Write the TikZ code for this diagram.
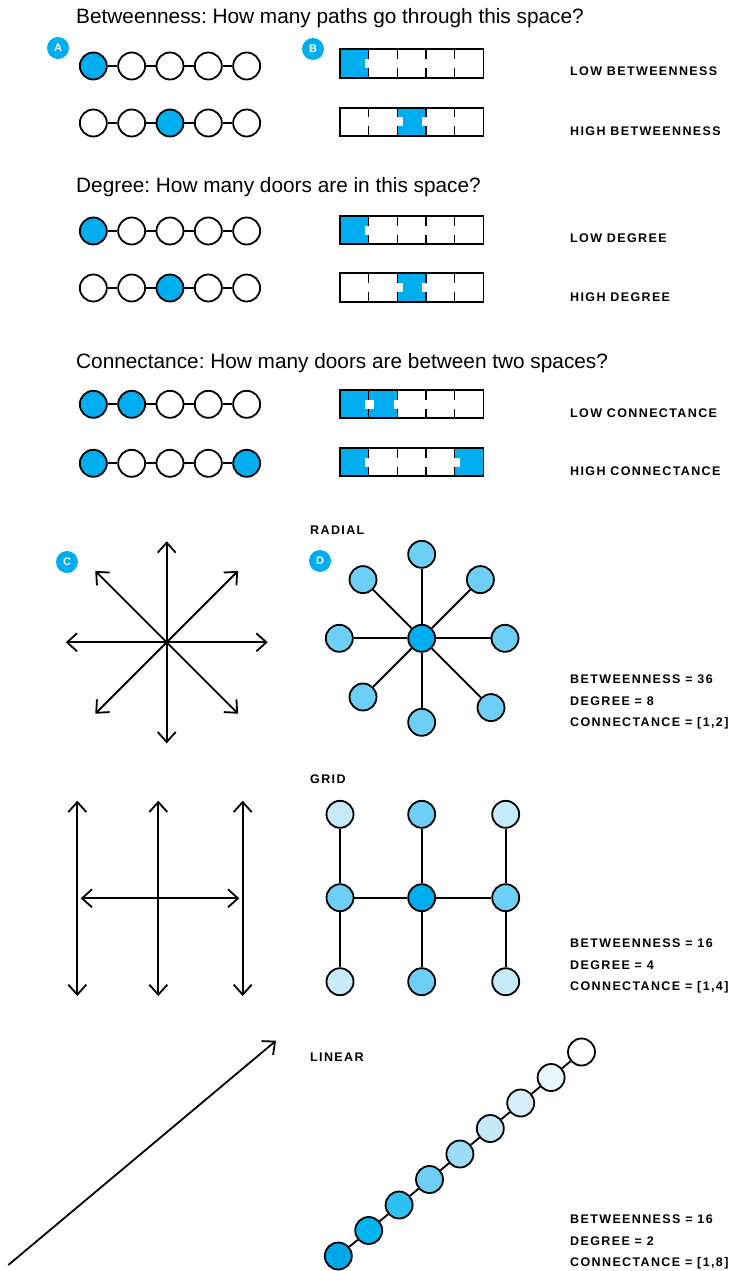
\documentclass[tikz,border=0pt]{standalone}
\usepackage{fontspec}
\setmainfont{Liberation Sans}
\newfontfamily\tagfont{Liberation Sans}[LetterSpace=11]
\usetikzlibrary{arrows.meta}
\frenchspacing
\definecolor{sky}{HTML}{00AEEF}
\definecolor{skymid}{HTML}{6DCFF6}
\definecolor{skypale}{HTML}{C7EAFB}
\definecolor{lin0}{HTML}{00A6E6}
\definecolor{lin1}{HTML}{00B4EE}
\definecolor{lin2}{HTML}{2DC0F0}
\definecolor{lin3}{HTML}{6DCFF6}
\definecolor{lin4}{HTML}{9BDCF7}
\definecolor{lin5}{HTML}{C5E9FA}
\definecolor{lin6}{HTML}{D6EFFB}
\definecolor{lin7}{HTML}{E8F6FD}

\begin{document}
\begin{tikzpicture}[
        x=1pt, y=-1pt,
        room/.style={draw, circle, line width=1.8pt, minimum size=27pt, inner sep=0pt, fill=white},
        cell/.style={draw, rectangle, line width=1.6pt, minimum width=28.67pt, minimum height=28.5pt, inner sep=0pt, fill=white},
        door/.style={rectangle, fill=white, minimum width=9pt, minimum height=9pt, inner sep=0pt},
        badge/.style={circle, fill=sky, text=white, minimum size=22pt, inner sep=0pt, font=\bfseries\fontsize{11}{11}\selectfont},
        heading/.style={anchor=west, inner sep=0pt, font=\fontsize{20.8}{24}\selectfont},
        tag/.style={anchor=west, inner sep=0pt, font=\tagfont\bfseries\fontsize{12.5}{14}\selectfont},
        link/.style={line width=1.8pt},
        way/.style={line width=1.8pt, -{Straight Barb[length=10pt, width=18pt]}},
        twoway/.style={line width=1.8pt, {Straight Barb[length=10pt, width=18pt]}-{Straight Barb[length=10pt, width=18pt]}}
    ]
        \useasboundingbox (0,0) rectangle (734,1271);

        \node[heading] (betweenTitle) at (76,18) {Betweenness: How many paths go through this space?};
        \node[heading] (degreeTitle) at (76,187) {Degree: How many doors are in this space?};
        \node[heading] (connectTitle) at (76,363) {Connectance: How many doors are between two spaces?};

        \node[badge] (badgeA) at (58,48) {A};
        \node[badge] (badgeB) at (313,49) {B};
        \node[badge] (badgeC) at (67,562) {C};
        \node[badge] (badgeD) at (320,561) {D};

        \foreach \r/\y/\a/\b/\c/\d/\e in {1/66/sky/white/white/white/white, 2/123/white/white/sky/white/white,
                3/231/sky/white/white/white/white, 4/288/white/white/sky/white/white,
                5/404.3/sky/sky/white/white/white, 6/463.3/sky/white/white/white/sky} {
            \foreach \i/\f in {1/\a,2/\b,3/\c,4/\d,5/\e}
                \node[room, fill=\f] (c\r-\i) at ({55+38.33*\i}, \y) {};
            \foreach \i/\j in {1/2,2/3,3/4,4/5}
                \draw[link] (c\r-\i) -- (c\r-\j);
        }

        \foreach \r/\y/\a/\b/\c/\d/\e in {1/63.5/sky/white/white/white/white, 2/122/white/white/sky/white/white,
                3/230/sky/white/white/white/white, 4/287.5/white/white/sky/white/white,
                5/404/sky/sky/white/white/white, 6/462/sky/white/white/white/sky} {
            \foreach \i/\f in {1/\a,2/\b,3/\c,4/\d,5/\e}
                \node[cell, fill=\f] (p\r-\i) at ({325.67+28.67*\i}, \y) {};
            \foreach \i in {1,2,3,4}
                \node[door] (q\r-\i) at (p\r-\i.east) {};
        }

        \node[tag] (lowBetween) at (570,71) {LOW BETWEENNESS};
        \node[tag] (highBetween) at (570,131) {HIGH BETWEENNESS};
        \node[tag] (lowDegree) at (570,238) {LOW DEGREE};
        \node[tag] (highDegree) at (570,297) {HIGH DEGREE};
        \node[tag] (lowConnect) at (570,413) {LOW CONNECTANCE};
        \node[tag] (highConnect) at (570,471) {HIGH CONNECTANCE};

        \coordinate (star) at (166.7,642.3);
        \foreach \a in {0,45,...,315} {
            \path (star) ++(\a:101) coordinate (ray\a);
            \draw[way] (star) -- (ray\a);
        }

        \node[tag] (radialTag) at (310,530) {RADIAL};
        \node[room, fill=sky] (hub) at (421.7,638.3) {};
        \foreach \a/\d in {0/83.3,45/98,90/84,135/83,180/82.4,225/83,270/84,315/83} {
            \path (hub.center) ++(\a:\d) node[room, fill=skymid] (spoke\a) {};
            \draw[link] (hub) -- (spoke\a);
        }
        \node[tag] (radialBetween) at (570,679) {BETWEENNESS = 36};
        \node[tag] (radialDegree) at (570,701) {DEGREE = 8};
        \node[tag] (radialConnect) at (570,723) {CONNECTANCE = [1,2]};

        \foreach \i/\x in {1/77.3,2/158.3,3/242.7} {
            \coordinate (top\i) at (\x,800.7);
            \coordinate (bot\i) at (\x,996);
            \draw[twoway] (top\i) -- (bot\i);
        }
        \coordinate (westEnd) at (80.7,898.3);
        \coordinate (eastEnd) at (239.3,898.3);
        \draw[twoway] (westEnd) -- (eastEnd);

        \node[tag] (gridTag) at (310,779) {GRID};
        \foreach \n/\x/\y/\f in {g11/340/814.3/skypale, g21/421.7/814.3/skymid, g31/505.7/814.3/skypale,
                g12/340/897.7/skymid, g22/421.7/897.7/sky, g32/505.7/897.7/skymid,
                g13/340/981.7/skypale, g23/421.7/981.7/skymid, g33/505.7/981.7/skypale}
            \node[room, fill=\f] (\n) at (\x,\y) {};
        \foreach \u/\v in {g11/g12,g12/g13,g21/g22,g22/g23,g31/g32,g32/g33,g12/g22,g22/g32}
            \draw[link] (\u) -- (\v);
        \node[tag] (gridBetween) at (570,943) {BETWEENNESS = 16};
        \node[tag] (gridDegree) at (570,965) {DEGREE = 4};
        \node[tag] (gridConnect) at (570,987) {CONNECTANCE = [1,4]};

        \coordinate (lineStart) at (8.3,1265);
        \coordinate (lineEnd) at (276,1040.7);
        \draw[way] (lineStart) -- (lineEnd);

        \node[tag] (linearTag) at (310,1057) {LINEAR};
        \foreach \i/\f in {0/lin0,1/lin1,2/lin2,3/lin3,4/lin4,5/lin5,6/lin6,7/lin7,8/white}
            \node[room, fill=\f] (l\i) at ({338.3+30.4*\i}, {1256-25.5*\i}) {};
        \foreach \i/\j in {0/1,1/2,2/3,3/4,4/5,5/6,6/7,7/8}
            \draw[link] (l\i) -- (l\j);
        \node[tag] (linearBetween) at (570,1219) {BETWEENNESS = 16};
        \node[tag] (linearDegree) at (570,1241) {DEGREE = 2};
        \node[tag] (linearConnect) at (570,1263) {CONNECTANCE = [1,8]};
    \end{tikzpicture}
\end{document}
